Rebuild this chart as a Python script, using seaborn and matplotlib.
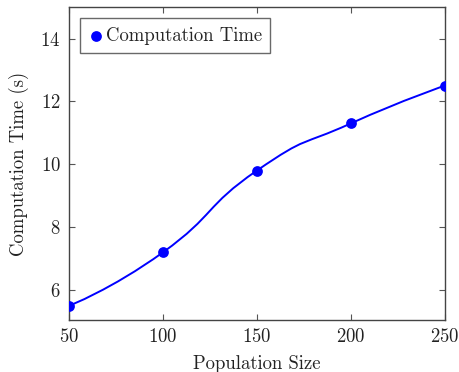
import numpy as np
import pandas as pd
import matplotlib
matplotlib.use("Agg")
import matplotlib.pyplot as plt
from matplotlib.path import Path
from matplotlib.patches import PathPatch
import seaborn as sns

population = [50, 100, 150, 200, 250]
comp_time = [5.5, 7.2, 9.8, 11.3, 12.5]
x_ticks = [50, 100, 150, 200, 250]
y_ticks = [6, 8, 10, 12, 14]

sns.set_theme(style="ticks")
plt.rcParams['font.family'] = ['cmr10', 'DejaVu Serif']
plt.rcParams['axes.formatter.use_mathtext'] = True
plt.rcParams['mathtext.fontset'] = 'cm'

df = pd.DataFrame({"Population Size": population, "Computation Time (s)": comp_time})

fig = plt.figure(figsize=(4.6, 3.72), dpi=100)
ax = fig.add_axes([0.15, 0.14, 0.817, 0.841])

blue = (0, 0, 1)

# smooth curve (TikZ-style cardinal spline) built from the data points
pts = np.column_stack([population, comp_time]).astype(float)
t = 0.2775
verts = [pts[0]]
codes = [Path.MOVETO]
n = len(pts)
for i in range(n - 1):
    p0 = pts[i]
    p1 = pts[i + 1]
    if i == 0:
        c1 = p0
    else:
        c1 = p0 + t * (pts[i + 1] - pts[i - 1])
    if i + 1 == n - 1:
        c2 = p1
    else:
        c2 = p1 - t * (pts[i + 2] - pts[i])
    verts += [c1, c2, p1]
    codes += [Path.CURVE4] * 3
ax.add_patch(PathPatch(Path(verts, codes), facecolor='none', edgecolor=blue, lw=1.4, zorder=2))

sns.scatterplot(data=df, x="Population Size", y="Computation Time (s)", ax=ax,
                color=blue, s=60, edgecolor=blue, linewidth=0, zorder=3,
                label="Computation Time")

ax.set_xlim(50, 250)
ax.set_ylim(5.05, 15)
ax.set_xticks(x_ticks)
ax.set_yticks(y_ticks)
ax.tick_params(direction='in', top=True, right=True, length=4, width=0.8,
               color='#555555', labelsize=13.5, labelcolor='#222222', pad=6)
for s in ax.spines.values():
    s.set_color('#444444')
    s.set_linewidth(1.0)
ax.set_xlabel("Population Size", fontsize=13.5, color='#222222', labelpad=6)
ax.set_ylabel("Computation Time (s)", fontsize=13.5, color='#222222', labelpad=8)

leg = ax.legend(loc='upper left', frameon=True, fancybox=False, fontsize=13.5,
                handletextpad=0.1, handlelength=0.8, borderpad=0.45,
                borderaxespad=0.6, markerscale=1.0)
leg.get_frame().set_edgecolor('#444444')
leg.get_frame().set_linewidth(1.0)

fig.savefig("out.png", dpi=100)
